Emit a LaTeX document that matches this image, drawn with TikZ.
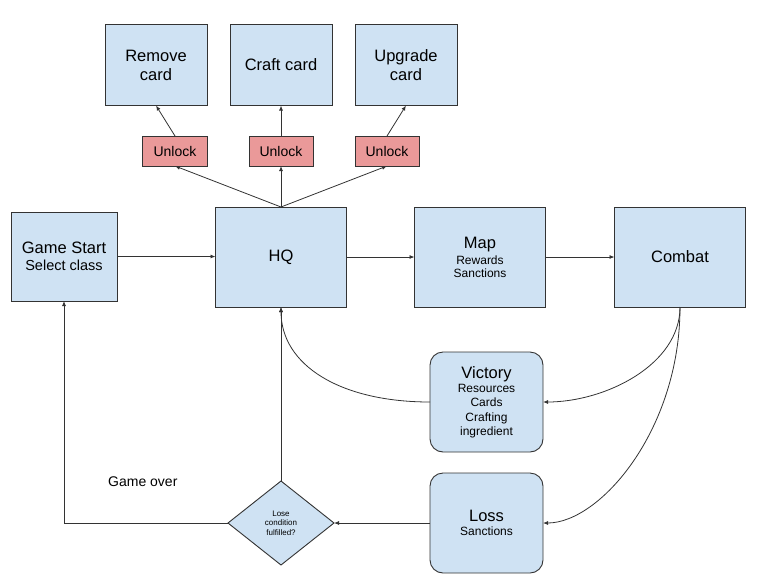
\documentclass[tikz,border=0pt]{standalone}
\usepackage{fontspec}
\setmainfont{Liberation Sans}
\usetikzlibrary{shapes.geometric,arrows.meta}
\definecolor{boxblue}{HTML}{CFE2F3}
\definecolor{boxred}{HTML}{EA9999}
\definecolor{edgec}{HTML}{333333}
\newcommand{\bigtxt}{\fontsize{16.5}{19}\selectfont}
\newcommand{\smalltxt}{\fontsize{12}{14.3}\selectfont}
\begin{document}
\begin{tikzpicture}[x=1pt,y=-1pt,
  box/.style={draw=edgec, line width=0.9pt, fill=boxblue, inner sep=0pt, outer sep=0pt, align=center, text=black},
  bigbox/.style={box, font=\bigtxt},
  unlockbox/.style={box, fill=boxred, font=\fontsize{14}{16}\selectfont, minimum width=64pt, minimum height=30pt},
  roundbox/.style={box, rounded corners=13pt, minimum width=113pt, minimum height=100pt, font=\smalltxt},
  arr/.style={draw=edgec, line width=0.8pt, -{Latex[length=5pt,width=4pt]}}
]
\useasboundingbox (0,0) rectangle (768,587);

% top cards
\node[bigbox, minimum width=102pt, minimum height=81pt] (rem) at (156,65) {Remove\\card};
\node[bigbox, minimum width=102pt, minimum height=81pt] (craft) at (281,65) {Craft card};
\node[bigbox, minimum width=102pt, minimum height=81pt] (upg) at (406,65) {Upgrade\\card};

% unlocks
\node[unlockbox, minimum width=65pt] (u1) at (175,151) {Unlock};
\node[unlockbox] (u2) at (281,151) {Unlock};
\node[unlockbox] (u3) at (387,151) {Unlock};

% main row
\node[box, minimum width=106pt, minimum height=89pt, font=\fontsize{14.5}{16.7}\selectfont] (gs) at (64,256.5)
  {{\bigtxt Game Start}\\{\fontsize{14.5}{16.7}\selectfont Select class}};
\node[bigbox, minimum width=131pt, minimum height=100pt] (hq) at (281,257) {HQ};
\node[box, minimum width=131pt, minimum height=100pt, font=\fontsize{12}{13}\selectfont] (map) at (480,257)
  {{\bigtxt Map}\\[3pt]{\smalltxt Rewards}\\{\smalltxt Sanctions}};
\node[bigbox, minimum width=131pt, minimum height=100pt] (com) at (680,257) {Combat};

% outcomes
\node[roundbox] (vic) at (486.5,402)
  {{\bigtxt Victory}\\{\smalltxt Resources}\\{\smalltxt Cards}\\{\smalltxt Crafting}\\{\smalltxt ingredient}};
\node[roundbox, font=\fontsize{12}{14.6}\selectfont] (loss) at (486.5,523)
  {{\bigtxt Loss}\\{\smalltxt Sanctions}};

% decision
\node[box, diamond, minimum width=106pt, minimum height=84pt, font=\fontsize{8}{9.5}\selectfont] (dia) at (281,523)
  {Lose\\condition\\fulfilled?};

\node[anchor=base west, inner sep=0pt, font=\fontsize{14}{16}\selectfont] (go) at (108,486) {Game over};

% connectors
\draw[arr] (u1.north) -- (rem.south);
\draw[arr] (u2.north) -- (craft.south);
\draw[arr] (u3.north) -- (upg.south);
\draw[arr] (hq.north) -- (u1.south);
\draw[arr] (hq.north) -- (u2.south);
\draw[arr] (hq.north) -- (u3.south);

\draw[arr] (gs.east) -- (hq.west |- gs.east);
\draw[arr] (hq.east) -- (map.west);
\draw[arr] (map.east) -- (com.west);

\draw[arr] (com.south) .. controls +(0,58) and +(62,0) .. (vic.east);
\draw[arr] (com.south) .. controls +(0,123) and +(57,0) .. (loss.east);
\draw[arr] (vic.west) .. controls +(-90,0) and +(0,58) .. (hq.south);
\draw[arr] (loss.west) -- (dia.east);
\draw[arr] (dia.north) -- (hq.south);
\draw[arr] (dia.west) -| (gs.south);
\end{tikzpicture}
\end{document}
